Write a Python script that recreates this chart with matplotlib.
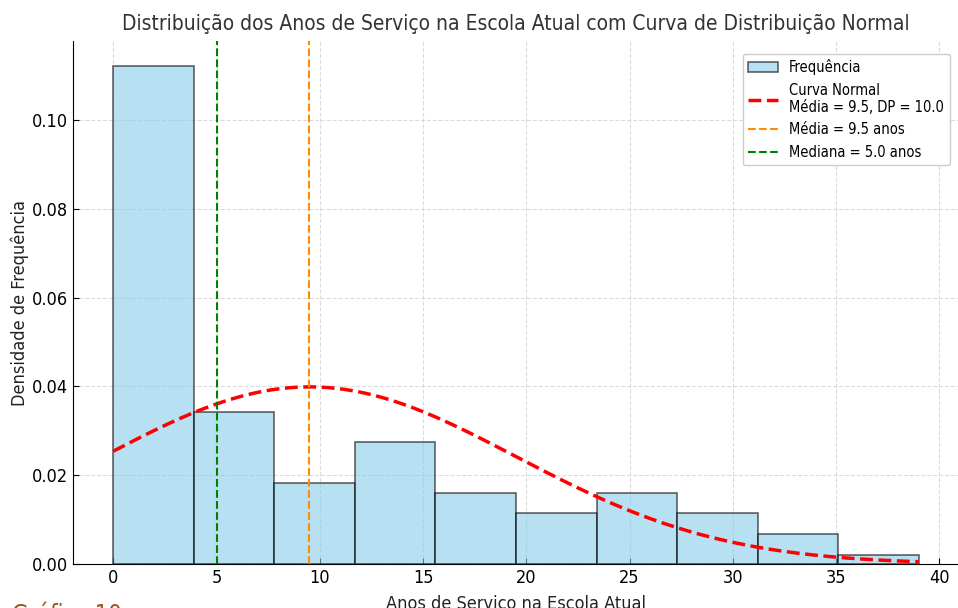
import matplotlib.pyplot as plt
import numpy as np

# dados (densidade por classe)
bin_edges = [0.0, 3.9, 7.8, 11.7, 15.6, 19.5, 23.4, 27.3, 31.2, 35.1, 39.0]
densidade = [0.1122, 0.0342, 0.0182, 0.0275, 0.0160, 0.0115, 0.0160, 0.0115, 0.0068, 0.0021]
media = 9.5
mediana = 5.0
dp = 10.0
x_min, x_max = 0, 39

plt.rcParams['font.family'] = ['DejaVu Sans']
plt.rcParams['font.stretch'] = 'condensed'

fig = plt.figure(figsize=(9.58, 6.08), dpi=100)
ax = fig.add_axes([73 / 958, 44 / 608, 886 / 958, 523 / 608])

edges = np.array(bin_edges)
barras = ax.bar(edges[:-1], densidade, width=np.diff(edges), align='edge',
                color='skyblue', edgecolor='black', alpha=0.6, linewidth=1.2, label='Frequência')

# curva normal
xs = np.linspace(x_min, x_max, 200)
pdf = np.exp(-0.5 * ((xs - media) / dp) ** 2) / (dp * np.sqrt(2 * np.pi))
curva, = ax.plot(xs, pdf, 'r--', linewidth=2.5, label=f'Curva Normal\nMédia = {media}, DP = {dp}')

l_media = ax.axvline(media, color='darkorange', linestyle='--', linewidth=1.5, label=f'Média = {media} anos')
l_mediana = ax.axvline(mediana, color='green', linestyle='--', linewidth=1.5, label=f'Mediana = {mediana} anos')

ax.set_xlim(-1.95, 40.95)
ax.set_ylim(0, 0.1178)
ax.set_xticks(np.arange(0, 41, 5))
ax.set_yticks(np.arange(0, 0.11, 0.02))
ax.yaxis.set_major_formatter(plt.FormatStrFormatter('%.2f'))
ax.tick_params(direction='in', labelsize=13, length=4)

ax.grid(True, linestyle='--', color='lightgray', alpha=0.8, linewidth=0.8)
ax.set_axisbelow(True)
ax.spines['top'].set_visible(False)
ax.spines['right'].set_visible(False)

ax.set_title('Distribuição dos Anos de Serviço na Escola Atual com Curva de Distribuição Normal',
             fontsize=15, color='#333333', pad=8)
ax.set_xlabel('Anos de Serviço na Escola Atual', fontsize=13, color='#222222', labelpad=6)
ax.set_ylabel('Densidade de Frequência', fontsize=13, color='#222222', labelpad=2)

ax.legend(handles=[barras, curva, l_media, l_mediana], loc='upper right', fontsize=10.5,
          framealpha=1, edgecolor='#cccccc', bbox_to_anchor=(0.998, 0.99))

# legenda do documento, cortada na borda inferior como na imagem original
fig.text(12 / 958, -19 / 608, 'Gráfico 10', fontsize=17, color='#A0521C', va='bottom')

fig.savefig('out.png', dpi=100)
